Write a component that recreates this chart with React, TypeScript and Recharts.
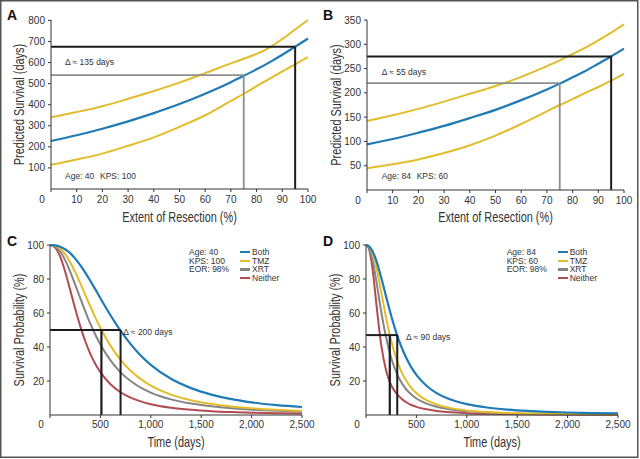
import React from 'react';
import { LineChart, Line, XAxis, YAxis, ReferenceLine, Label, Legend } from 'recharts';

// ---------- Data: panels A & B (predicted survival vs extent of resection) ----------
const RESECTION = [0, 10, 20, 30, 40, 50, 60, 70, 75, 80, 85, 90, 95, 100];
const A_UPPER = [340, 365, 393, 428, 465, 505, 550, 596, 618, 641, 671, 712, 757, 802];
const A_MEAN = [228, 255, 286, 321, 360, 403, 452, 507, 537, 568, 601, 637, 675, 714];
const A_LOWER = [115, 140, 168, 205, 245, 295, 350, 418, 452, 488, 523, 558, 592, 626];
const B_UPPER = [142, 154, 167, 182, 198, 214, 233, 255, 267, 280, 293, 308, 324, 341];
const B_MEAN = [94, 105, 118, 132, 148, 165, 185, 207, 219, 232, 245, 260, 275, 291];
const B_LOWER = [45, 53, 63, 76, 92, 112, 136, 162, 175, 187, 200, 212, 225, 239];

const RES_X_TICKS = [0, 10, 20, 30, 40, 50, 60, 70, 80, 90, 100];
const A_Y_TICKS = [100, 200, 300, 400, 500, 600, 700, 800];
const B_Y_TICKS = [50, 100, 150, 200, 250, 300, 350];

// reference boxes: [extent of resection, days] -> gray (75%), black (95%)
const A_REF_EOR = [75, 95];
const A_REF_DAYS = [540, 675];
const B_REF_EOR = [75, 95];
const B_REF_DAYS = [220, 275];

// ---------- Data: panels C & D (survival probability vs time) ----------
const TIMES = [0, 25, 50, 75, 100, 150, 200, 250, 300, 350, 400, 450, 500, 600, 700, 800, 900, 1000, 1200, 1400, 1600, 1800, 2000, 2250, 2500];
const C_BOTH = [100, 99.96, 99.8, 99.5, 99.0, 97.5, 95.2, 92.0, 88.2, 83.8, 78.9, 73.9, 68.7, 58.7, 49.6, 41.7, 35.0, 29.5, 21.3, 15.8, 12.0, 9.3, 7.4, 5.8, 4.7];
const C_TMZ = [100, 99.9, 99.6, 98.9, 97.8, 94.6, 89.9, 84.1, 77.6, 70.7, 63.9, 57.3, 51.3, 40.8, 32.4, 26.0, 21.1, 17.3, 12.0, 8.7, 6.5, 5.05, 4.0, 3.07, 2.4];
const C_XRT = [100, 99.8, 99.2, 98.0, 96.2, 91.1, 84.4, 76.7, 68.8, 61.0, 53.7, 47.2, 41.5, 32.1, 25.1, 20.0, 16.1, 13.2, 9.2, 6.7, 5.1, 3.95, 3.15, 2.45, 1.95];
const C_NEITHER = [100, 99.7, 98.6, 96.4, 93.3, 84.4, 73.6, 62.5, 52.3, 43.4, 36.0, 30.0, 25.2, 18.1, 13.4, 10.2, 8.0, 6.35, 4.26, 3.02, 2.24, 1.72, 1.35, 1.03, 0.81];

const D_BOTH = [100, 99.5, 97.9, 95.1, 91.2, 81.0, 69.5, 58.4, 48.5, 40.3, 33.5, 28.0, 23.6, 17.2, 12.9, 10.0, 7.9, 6.4, 4.4, 3.2, 2.4, 1.86, 1.48, 1.15, 0.92];
const D_TMZ = [100, 99.5, 97.4, 93.3, 87.5, 72.6, 57.0, 43.7, 33.4, 25.7, 20.1, 15.9, 12.8, 8.7, 6.2, 4.55, 3.46, 2.7, 1.77, 1.23, 0.89, 0.68, 0.53, 0.4, 0.31];
const D_XRT = [100, 98.8, 94.8, 88.1, 79.6, 61.2, 45.4, 33.5, 25.2, 19.2, 15.0, 12.0, 9.7, 6.7, 4.84, 3.63, 2.82, 2.24, 1.5, 1.07, 0.8, 0.61, 0.49, 0.37, 0.3];
const D_NEITHER = [100, 98.5, 92, 81, 67, 41.5, 26, 17.5, 12.8, 9.7, 7.5, 5.9, 4.8, 3.34, 2.4, 1.8, 1.4, 1.1, 0.75, 0.53, 0.4, 0.31, 0.24, 0.19, 0.15];

const TIME_X_TICKS = [0, 500, 1000, 1500, 2000, 2500];
const PROB_Y_TICKS = [20, 40, 60, 80, 100];

const C_REF_TIMES = [510, 700];
const C_REF_PROB = 50;
const D_REF_TIMES = [236, 310];
const D_REF_PROB = 47;

const SERIES_NAMES = ['Both', 'TMZ', 'XRT', 'Neither'];
const C_INFO = ['Age: 40', 'KPS: 100', 'EOR: 98%'];
const D_INFO = ['Age: 84', 'KPS: 60', 'EOR: 98%'];

// ---------- Styles ----------
const BLUE = '#1f7ab5';
const YELLOW = '#e3bc2c';
const GRAY = '#858585';
const RED = '#b24b52';
const SERIES_COLORS = [BLUE, YELLOW, GRAY, RED];
const REF_BLACK = '#1c1c1c';
const REF_GRAY = '#8e8e8e';
const AXIS = '#333';
const TICK_FONT = '"Liberation Sans", Arial, sans-serif';
const TITLE_SCALE = 0.78;

const titleTextStyle: React.CSSProperties = { fontFamily: TICK_FONT, fontSize: 14, fill: '#333' };
const yTickStyle = { fontSize: 10, fill: '#333', fontFamily: TICK_FONT };

const fmtThousands = (v: number) => v.toLocaleString('en-US');
const fmtPlain = (v: number) => String(v);

const makeXTick = (fmt: (v: number) => string) => (props: any) => {
  const { x, y, payload } = props;
  const v = payload.value;
  return (
    <text x={v === 0 ? x - 9 : x} y={y} dy="0.71em" textAnchor="middle" fontSize={10} fill="#333" fontFamily={TICK_FONT}>
      {fmt(v)}
    </text>
  );
};

// condensed axis titles, placed from the axis viewBox that Recharts supplies
const xTitle = (text: string, offset: number) => (props: any) => {
  const vb = props.viewBox || {};
  const cx = vb.x + vb.width / 2;
  const y = vb.y + vb.height - offset;
  return (
    <text transform={`translate(${cx},${y}) scale(${TITLE_SCALE},1)`} textAnchor="middle" style={titleTextStyle}>
      {text}
    </text>
  );
};

const yTitle = (text: string, offset: number) => (props: any) => {
  const vb = props.viewBox || {};
  const cx = vb.x + offset;
  const cy = vb.y + vb.height / 2;
  return (
    <text transform={`translate(${cx},${cy}) rotate(-90) scale(${TITLE_SCALE},1)`} textAnchor="middle" dy="0.355em" style={titleTextStyle}>
      {text}
    </text>
  );
};

const buildRes = (upper: number[], mean: number[], lower: number[]) =>
  RESECTION.map((x, i) => ({ x, upper: upper[i], mean: mean[i], lower: lower[i] }));

const buildSurv = (both: number[], tmz: number[], xrt: number[], neither: number[]) =>
  TIMES.map((t, i) => ({ t, both: both[i], tmz: tmz[i], xrt: xrt[i], neither: neither[i] }));

type ResProps = {
  data: any[];
  yMax: number;
  yTicks: number[];
  yWidth: number;
  right: number;
  xHeight: number;
  yLabelOffset: number;
  refEor: number[];
  refDays: number[];
};

const ResectionPanel = ({ data, yMax, yTicks, yWidth, right, xHeight, yLabelOffset, refEor, refDays }: ResProps) => (
  <LineChart width={320} height={230} data={data} margin={{ top: 20, right, left: 0, bottom: 0 }}>
    <XAxis
      dataKey="x"
      type="number"
      domain={[0, 100]}
      ticks={RES_X_TICKS}
      height={xHeight}
      tickSize={3}
      tickMargin={4}
      interval={0}
      tick={makeXTick(fmtPlain)}
      axisLine={{ stroke: AXIS }}
      tickLine={{ stroke: AXIS }}
    >
      <Label content={xTitle('Extent of Resection (%)', 8)} />
    </XAxis>
    <YAxis
      type="number"
      domain={[0, yMax]}
      ticks={yTicks}
      width={yWidth}
      tickSize={3}
      tickMargin={3}
      interval={0}
      tick={yTickStyle}
      axisLine={{ stroke: AXIS }}
      tickLine={{ stroke: AXIS }}
    >
      <Label content={yTitle('Predicted Survival (days)', yLabelOffset)} />
    </YAxis>
    <Line type="monotone" dataKey="upper" stroke={YELLOW} strokeWidth={2} dot={false} isAnimationActive={false} />
    <Line type="monotone" dataKey="lower" stroke={YELLOW} strokeWidth={2} dot={false} isAnimationActive={false} />
    <Line type="monotone" dataKey="mean" stroke={BLUE} strokeWidth={2.2} dot={false} isAnimationActive={false} />
    <ReferenceLine segment={[{ x: 0, y: refDays[0] }, { x: refEor[0], y: refDays[0] }]} stroke={REF_GRAY} strokeWidth={1.8} />
    <ReferenceLine segment={[{ x: refEor[0], y: 0 }, { x: refEor[0], y: refDays[0] }]} stroke={REF_GRAY} strokeWidth={1.8} />
    <ReferenceLine segment={[{ x: 0, y: refDays[1] }, { x: refEor[1], y: refDays[1] }]} stroke={REF_BLACK} strokeWidth={2} />
    <ReferenceLine segment={[{ x: refEor[1], y: 0 }, { x: refEor[1], y: refDays[1] }]} stroke={REF_BLACK} strokeWidth={2} />
  </LineChart>
);

const LegendBox = ({ info }: { info: string[] }) => (
  <div style={{ display: 'flex', fontFamily: TICK_FONT, fontSize: 8.5, lineHeight: '8.6px', color: '#333', whiteSpace: 'nowrap' }}>
    <div style={{ width: 51 }}>
      {info.map((s) => (
        <div key={s}>{s}</div>
      ))}
    </div>
    <div>
      {SERIES_NAMES.map((name, i) => (
        <div key={name} style={{ display: 'flex', alignItems: 'center', height: 8.6 }}>
          <span style={{ display: 'inline-block', width: 10, height: 2.2, background: SERIES_COLORS[i], marginRight: 2 }} />
          <span>{name}</span>
        </div>
      ))}
    </div>
  </div>
);

type SurvProps = {
  data: any[];
  yWidth: number;
  right: number;
  yLabelOffset: number;
  refTimes: number[];
  refProb: number;
  info: string[];
  legendLeft: number;
};

const SurvivalPanel = ({ data, yWidth, right, yLabelOffset, refTimes, refProb, info, legendLeft }: SurvProps) => (
  <LineChart width={320} height={229} data={data} margin={{ top: 15, right, left: 0, bottom: 0 }}>
    <XAxis
      dataKey="t"
      type="number"
      domain={[0, 2500]}
      ticks={TIME_X_TICKS}
      height={44}
      tickSize={3}
      tickMargin={3}
      interval={0}
      tick={makeXTick(fmtThousands)}
      axisLine={{ stroke: AXIS }}
      tickLine={{ stroke: AXIS }}
    >
      <Label content={xTitle('Time (days)', 12.5)} />
    </XAxis>
    <YAxis
      type="number"
      domain={[0, 100]}
      ticks={PROB_Y_TICKS}
      width={yWidth}
      tickSize={3}
      tickMargin={3}
      interval={0}
      tick={yTickStyle}
      axisLine={{ stroke: AXIS }}
      tickLine={{ stroke: AXIS }}
    >
      <Label content={yTitle('Survival Probability (%)', yLabelOffset)} />
    </YAxis>
    <Legend
      layout="horizontal"
      verticalAlign="middle"
      align="center"
      wrapperStyle={{ left: legendLeft, top: 18, width: 'auto', height: 'auto' }}
      content={() => <LegendBox info={info} />}
    />
    <Line type="monotone" dataKey="neither" stroke={RED} strokeWidth={2} dot={false} isAnimationActive={false} />
    <Line type="monotone" dataKey="xrt" stroke={GRAY} strokeWidth={2} dot={false} isAnimationActive={false} />
    <Line type="monotone" dataKey="tmz" stroke={YELLOW} strokeWidth={2} dot={false} isAnimationActive={false} />
    <Line type="monotone" dataKey="both" stroke={BLUE} strokeWidth={2.2} dot={false} isAnimationActive={false} />
    <ReferenceLine segment={[{ x: 0, y: refProb }, { x: refTimes[1], y: refProb }]} stroke={REF_BLACK} strokeWidth={2} />
    <ReferenceLine segment={[{ x: refTimes[0], y: 0 }, { x: refTimes[0], y: refProb }]} stroke={REF_BLACK} strokeWidth={2.2} />
    <ReferenceLine segment={[{ x: refTimes[1], y: 0 }, { x: refTimes[1], y: refProb }]} stroke={REF_BLACK} strokeWidth={2} />
  </LineChart>
);

const annot = { fontFamily: TICK_FONT, fontSize: 8.5, fill: '#333' };
const letter = { fontFamily: TICK_FONT, fontSize: 14, fontWeight: 700, fill: '#111' };

export default function App() {
  return (
    <div style={{ position: 'absolute', left: 0, top: 0, width: 640, height: 459, background: '#fff', overflow: 'hidden' }}>
      <div style={{ position: 'absolute', left: 0, top: 0 }}>
        <ResectionPanel data={buildRes(A_UPPER, A_MEAN, A_LOWER)} yMax={800} yTicks={A_Y_TICKS} yWidth={51} right={12} xHeight={41} yLabelOffset={19} refEor={A_REF_EOR} refDays={A_REF_DAYS} />
      </div>
      <div style={{ position: 'absolute', left: 320, top: 0 }}>
        <ResectionPanel data={buildRes(B_UPPER, B_MEAN, B_LOWER)} yMax={350} yTicks={B_Y_TICKS} yWidth={47} right={16} xHeight={40} yLabelOffset={15.7} refEor={B_REF_EOR} refDays={B_REF_DAYS} />
      </div>
      <div style={{ position: 'absolute', left: 0, top: 230 }}>
        <SurvivalPanel data={buildSurv(C_BOTH, C_TMZ, C_XRT, C_NEITHER)} yWidth={50} right={18} yLabelOffset={19} refTimes={C_REF_TIMES} refProb={C_REF_PROB} info={C_INFO} legendLeft={189} />
      </div>
      <div style={{ position: 'absolute', left: 320, top: 230 }}>
        <SurvivalPanel data={buildSurv(D_BOTH, D_TMZ, D_XRT, D_NEITHER)} yWidth={46} right={22} yLabelOffset={15} refTimes={D_REF_TIMES} refProb={D_REF_PROB} info={D_INFO} legendLeft={186.7} />
      </div>
      <svg width={640} height={459} style={{ position: 'absolute', left: 0, top: 0, pointerEvents: 'none' }}>
        <rect x={0.75} y={0.75} width={637} height={456.5} fill="none" stroke="#555" strokeWidth={1.5} />
        <text x={7} y={19.5} style={letter}>A</text>
        <text x={323} y={19.5} style={letter}>B</text>
        <text x={7} y={245.5} style={letter}>C</text>
        <text x={323} y={245.5} style={letter}>D</text>
        <text x={65} y={64.5} style={annot}>Δ ≈ 135 days</text>
        <text x={65} y={179} style={annot}>Age: 40</text>
        <text x={100} y={179} style={annot}>KPS: 100</text>
        <text x={381.7} y={75} style={annot}>Δ ≈ 55 days</text>
        <text x={381.7} y={179} style={annot}>Age: 84</text>
        <text x={416.7} y={179} style={annot}>KPS: 60</text>
        <text x={123.3} y={334.5} style={annot}>Δ ≈ 200 days</text>
        <text x={406} y={340} style={annot}>Δ ≈ 90 days</text>
      </svg>
    </div>
  );
}
